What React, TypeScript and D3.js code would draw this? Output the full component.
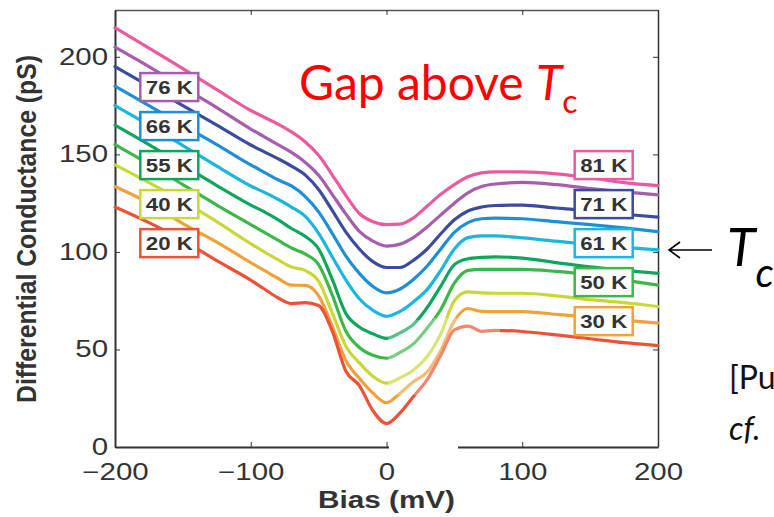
import React, { useRef, useEffect } from 'react';
import * as d3 from 'd3';

// bias grid (mV) shared by all the temperature curves
const biasMv = [-200, -175, -150, -125, -100, -90, -80, -70, -60, -50, -40, -30, -20, -10, 0, 10, 20, 30, 40, 50, 60, 70, 80, 100, 125, 150, 175, 200];

// differential conductance (pS)
const g81 = [215, 204.5, 194, 183.2, 172.5, 169, 165.5, 161.5, 156.5, 149.5, 139.5, 129, 119.7, 115.5, 114, 114.2, 117.5, 123.5, 129.5, 134.5, 138.5, 140.5, 141, 141, 140, 138, 135.5, 134];
const g76 = [205, 195, 184.5, 174, 163, 159, 155, 151, 146, 139.3, 129.5, 119.5, 110.5, 105.5, 103, 104, 107.5, 112.8, 119, 125, 130.3, 133.5, 134.8, 135.6, 134.5, 132.5, 130.8, 129.2];
const g71 = [195, 185, 175, 165, 154.8, 151.3, 147.8, 144, 139.5, 132, 121.3, 110.3, 101.5, 95, 92, 92, 95.8, 101.5, 109.3, 116.5, 121, 123, 123.8, 124, 122.5, 121, 119.3, 117.8];
const g66 = [185, 175, 165, 155, 144.6, 140.8, 137, 133.8, 128.5, 120.5, 109.5, 98, 89, 82.3, 79, 81, 86, 92.8, 101.5, 110, 115, 117, 117.3, 117, 115.5, 114, 112.3, 110.4];
const g61 = [175, 165, 154.5, 144, 133.8, 130.5, 127, 123, 118.3, 109.5, 97.5, 85.7, 76, 70, 67, 69.5, 74.5, 80.8, 90.5, 101.5, 107.3, 108.2, 108.2, 107.2, 105.5, 103.8, 102.3, 101];
const g55 = [165, 155, 144.5, 134, 124, 120.5, 116.5, 112, 108, 101.5, 86, 68.5, 61.5, 58, 55.7, 58.5, 63, 71.5, 82.5, 93.5, 96.5, 97.2, 97.5, 96.8, 94.5, 92.3, 90.5, 89];
const g50 = [155, 145, 134.5, 124, 114, 110, 106, 102, 99, 93.5, 78, 59.5, 51, 47, 45.5, 48.5, 53, 61, 70.5, 84, 90.5, 91, 91, 91, 90, 88.3, 85.5, 83];
const g40 = [144.6, 135.5, 126, 115.5, 104.2, 100, 96, 92.3, 90.5, 85, 68.8, 51.8, 43.1, 36.2, 32.7, 35.5, 39.5, 46.4, 58, 75, 79.5, 79, 78.8, 78.8, 77.5, 75.5, 74, 72];
const g30 = [133.5, 125, 114.5, 105, 94.5, 90.5, 86.5, 83, 82.8, 77.5, 62, 44.3, 35.2, 27.6, 22.7, 27.6, 33.6, 38.4, 49.6, 64.7, 71, 69.5, 69.4, 69.4, 68, 66.5, 65, 63.5];
const g20 = [123, 115, 106, 95.5, 85.5, 81, 76.5, 73.5, 74, 72.5, 59.5, 39, 31.5, 18.6, 12, 17.5, 26, 34.5, 47, 60, 62, 59.3, 59.8, 59.2, 57.5, 55.5, 53.5, 52];

const curves = [g81, g76, g71, g66, g61, g55, g50, g40, g30, g20];
const curveColors = ['#ea5a9e', '#a65dab', '#3b4c9e', '#1e8fd6', '#1ab6dc', '#0ea65c', '#3db74a', '#c8d838', '#f0a13a', '#ec5238'];

// temperature tags, anchored in data units (bias, conductance)
const leftTags = ['76 K', '66 K', '55 K', '40 K', '20 K'];
const leftTagColors = ['#a65dab', '#1e8fd6', '#0ea65c', '#c8d838', '#ec5238'];
const leftTagG = [184.5, 164.5, 144.5, 124.5, 104.5];
const rightTags = ['81 K', '71 K', '61 K', '50 K', '30 K'];
const rightTagColors = ['#ea5a9e', '#3b4c9e', '#1ab6dc', '#3db74a', '#f0a13a'];
const rightTagG = [144.5, 124.5, 104.5, 84.5, 64.5];

const xTicks = [-200, -100, 0, 100, 200];
const yTicks = [0, 50, 100, 150, 200];

const App = () => {
    const svgRef = useRef<SVGSVGElement>(null);

    useEffect(() => {
        drawChart();
    }, []);

    const drawChart = () => {
        const svg = d3.select(svgRef.current);
        svg.selectAll('*').remove();

        const W = 774, H = 517;
        const margin = { top: 10, right: 116, bottom: 70, left: 115 };
        const axisColor = '#333';
        const tickFont = '"Liberation Sans", Arial, sans-serif';

        const x = d3.scaleLinear().domain([-200, 200]).range([margin.left, W - margin.right]);
        const y = d3.scaleLinear().domain([0, 224]).range([H - margin.bottom, margin.top]);

        // frame + inward ticks (matlab style)
        const bottom = svg.append('g')
            .attr('transform', `translate(0,${y(0)})`)
            .call(d3.axisBottom(x).tickValues(xTicks).tickSizeInner(-5).tickSizeOuter(0).tickPadding(17));
        const left = svg.append('g')
            .attr('transform', `translate(${x(-200)},0)`)
            .call(d3.axisLeft(y).tickValues(yTicks).tickSizeInner(-5).tickSizeOuter(0).tickPadding(7));
        const top = svg.append('g')
            .attr('transform', `translate(0,${y(224)})`)
            .call(d3.axisTop(x).tickValues(xTicks).tickSizeInner(-5).tickSizeOuter(0).tickFormat(() => ''));
        const right = svg.append('g')
            .attr('transform', `translate(${x(200)},0)`)
            .call(d3.axisRight(y).tickValues(yTicks).tickSizeInner(-5).tickSizeOuter(0).tickFormat(() => ''));

        [bottom, left, top, right].forEach(g => {
            g.selectAll('path,line').attr('stroke', axisColor);
            g.selectAll('text')
                .attr('fill', axisColor)
                .style('font-family', tickFont)
                .style('font-size', '23px');
        });
        bottom.select('.domain').attr('stroke-width', 2);
        left.select('.domain').attr('stroke-width', 2);
        top.select('.domain').attr('stroke-width', 1.3).attr('stroke', '#555');
        right.select('.domain').attr('stroke-width', 1.5);

        // the figure was stretched sideways, so widen the glyphs
        svg.selectAll<SVGTextElement, unknown>('.tick text').each(function () {
            const len = this.getComputedTextLength();
            d3.select(this).attr('textLength', len * 1.28).attr('lengthAdjust', 'spacingAndGlyphs');
        });

        svg.append('text')
            .attr('transform', `translate(${x(0)},508)`)
            .attr('text-anchor', 'middle')
            .attr('fill', axisColor)
            .attr('textLength', 137)
            .attr('lengthAdjust', 'spacingAndGlyphs')
            .style('font-family', tickFont)
            .style('font-weight', 'bold')
            .style('font-size', '23px')
            .text('Bias (mV)');

        svg.append('text')
            .attr('transform', 'translate(36,229) rotate(-90) scale(1,1.35)')
            .attr('text-anchor', 'middle')
            .attr('fill', axisColor)
            .attr('textLength', 348)
            .attr('lengthAdjust', 'spacingAndGlyphs')
            .style('font-family', tickFont)
            .style('font-weight', 'bold')
            .style('font-size', '20px')
            .text('Differential Conductance (pS)');

        // curves
        const line = d3.line<number>()
            .x((d, i) => x(biasMv[i]))
            .y(d => y(d))
            .curve(d3.curveMonotoneX);

        svg.append('g')
            .selectAll('path')
            .data(curves)
            .enter().append('path')
            .attr('d', d => line(d))
            .attr('fill', 'none')
            .attr('stroke', (d, i) => curveColors[i])
            .attr('stroke-width', 3.2)
            .attr('stroke-linejoin', 'round')
            .attr('stroke-linecap', 'round');

        // washed-out patch of the scanned figure near the bottom of the gap
        svg.append('path')
            .attr('d', 'M388,320H458V395H388Z M433,318H500V345H433Z')
            .attr('fill', '#fff')
            .attr('opacity', 0.3);
        svg.append('rect')
            .attr('x', 389).attr('y', 444).attr('width', 69).attr('height', 6)
            .attr('fill', '#fff');

        // temperature tags
        const drawTags = (labels, colors, gVals, bias) => {
            const tag = svg.append('g')
                .selectAll('g')
                .data(labels)
                .enter().append('g')
                .attr('transform', (d, i) => `translate(${x(bias)},${y(gVals[i])})`);
            tag.append('rect')
                .attr('x', -29).attr('y', -14)
                .attr('width', 58).attr('height', 28)
                .attr('fill', '#fff')
                .attr('stroke', (d, i) => colors[i])
                .attr('stroke-width', 2.5);
            tag.append('text')
                .attr('text-anchor', 'middle')
                .attr('y', 7)
                .attr('fill', '#333')
                .attr('textLength', 47)
                .attr('lengthAdjust', 'spacingAndGlyphs')
                .style('font-family', tickFont)
                .style('font-weight', 'bold')
                .style('font-size', '19px')
                .text(d => d);
        };
        drawTags(leftTags, leftTagColors, leftTagG, -160);
        drawTags(rightTags, rightTagColors, rightTagG, 160);

        // slide annotations
        const slideFont = 'Lato, "Open Sans", sans-serif';
        const title = svg.append('text')
            .attr('x', 299).attr('y', 100)
            .attr('fill', '#ff0000')
            .style('font-family', slideFont)
            .style('font-size', '48px');
        title.append('tspan').text('Gap above ');
        title.append('tspan').style('font-style', 'italic').text('T');
        title.append('tspan').attr('dy', 13).style('font-size', '32px').text('c');

        svg.append('path')
            .attr('d', 'M712,250H669 M680,242L669,250L680,258')
            .attr('fill', 'none')
            .attr('stroke', '#000')
            .attr('stroke-width', 1.6);
        const tc = svg.append('text')
            .attr('x', 727).attr('y', 266)
            .attr('fill', '#000')
            .style('font-family', slideFont)
            .style('font-style', 'italic')
            .style('font-size', '52px');
        tc.append('tspan').text('T');
        tc.append('tspan').attr('dy', 21).style('font-size', '40px').text('c');

        svg.append('text')
            .attr('x', 729).attr('y', 389)
            .attr('fill', '#111')
            .style('font-family', slideFont)
            .style('font-size', '32px')
            .text('[Pu');
        svg.append('text')
            .attr('x', 729).attr('y', 440)
            .attr('fill', '#111')
            .style('font-family', slideFont)
            .style('font-style', 'italic')
            .style('font-size', '32px')
            .text('cf.');
    };

    return (
        <svg ref={svgRef} width={774} height={517} style={{ position: 'absolute', left: 0, top: 0, background: '#fff' }}></svg>
    );
};

export default App;
